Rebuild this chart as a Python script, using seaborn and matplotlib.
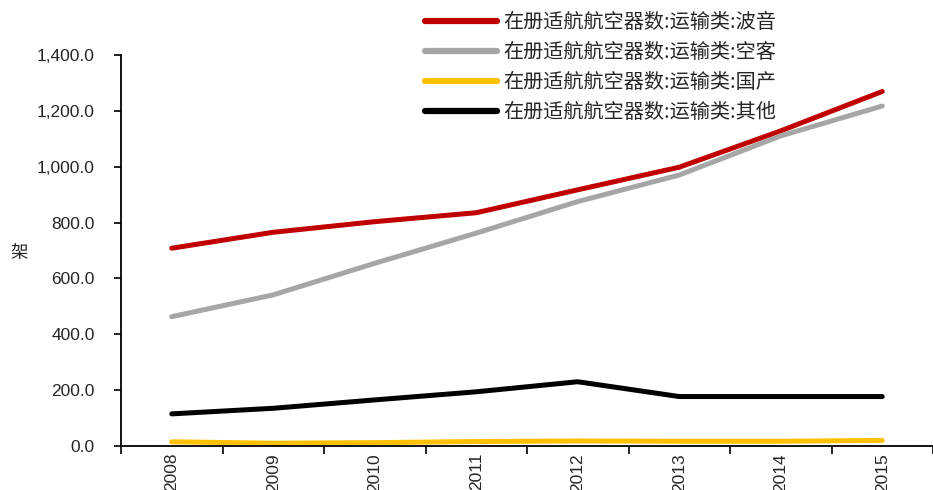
import matplotlib
matplotlib.use("Agg")
import matplotlib.pyplot as plt
import seaborn as sns
import pandas as pd
import numpy as np
from matplotlib.ticker import FuncFormatter, FixedLocator
from matplotlib.lines import Line2D

years = [2008, 2009, 2010, 2011, 2012, 2013, 2014, 2015]
boeing = [708, 765, 803, 835, 917, 998, 1128, 1269]
airbus = [463, 541, 654, 762, 875, 970, 1110, 1217]
domestic = [15, 10, 12, 16, 18, 17, 17, 20]
other = [115, 135, 165, 194, 230, 177, 177, 177]
names = ["在册适航航空器数:运输类:波音", "在册适航航空器数:运输类:空客",
         "在册适航航空器数:运输类:国产", "在册适航航空器数:运输类:其他"]
colors = ["#C00000", "#A6A6A6", "#FFC000", "#000000"]
ylabel = "架"

sns.set_theme(style="white")
plt.rcParams['font.family'] = ['Liberation Sans', 'Noto Sans CJK SC', 'DejaVu Sans']

rows = []
for name, vals in zip(names, [boeing, airbus, domestic, other]):
    for y, v in zip(years, vals):
        rows.append({"year": y, "value": v, "series": name})
df = pd.DataFrame(rows)

fig = plt.figure(figsize=(9.33, 4.9), dpi=100)
ax = fig.add_axes([0.1297, 0.0898, 0.8703, 0.7982])
sns.lineplot(data=df, x="year", y="value", hue="series", hue_order=names,
             palette=colors, linewidth=3.6, ax=ax, legend=False,
             solid_capstyle="round")

ax.set_xlim(years[0] - 0.5, years[-1] + 0.5)
ax.set_ylim(0, 1400)
ax.set_yticks(np.arange(0, 1401, 200))
ax.yaxis.set_major_formatter(FuncFormatter(lambda v, p: f"{v:,.1f}"))
ax.set_xticks(years)
ax.set_xticklabels([str(y) for y in years], rotation=90)
ax.xaxis.set_minor_locator(FixedLocator([y - 0.5 for y in years] + [years[-1] + 0.5]))
ax.tick_params(axis="x", which="major", length=0, labelsize=12.5, pad=5)
ax.tick_params(axis="x", which="minor", length=6, width=1.2, color="black", direction="out", bottom=True)
ax.tick_params(axis="y", which="major", length=5, width=1.2, color="black", direction="out", left=True,
               labelsize=12.5, pad=14)
for s in ["top", "right"]:
    ax.spines[s].set_visible(False)
for s in ["left", "bottom"]:
    ax.spines[s].set_color("black")
    ax.spines[s].set_linewidth(1.3)
ax.set_xlabel("")
ax.set_ylabel("")
fig.text(0.02, 0.483, ylabel, fontsize=12.5, family=['Noto Sans CJK SC'], rotation=0,
         va="center", ha="center")

handles = [Line2D([0], [0], color=c, linewidth=4.5, solid_capstyle="round") for c in colors]
leg = fig.legend(handles, names, loc="upper left", bbox_to_anchor=(0.436, 1.012),
                 frameon=False, handlelength=3.6, handletextpad=0.3, labelspacing=0.45,
                 prop={"family": ["Noto Sans CJK SC"], "size": 14.5})

fig.savefig("out.png", dpi=100)
